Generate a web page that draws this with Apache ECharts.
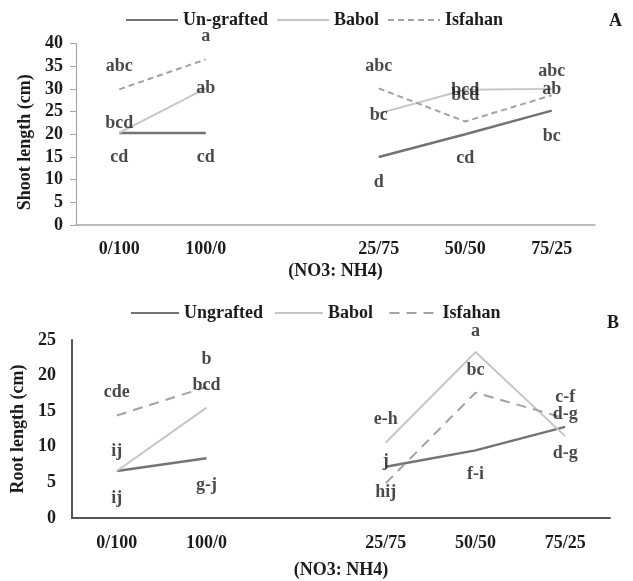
<!DOCTYPE html>
<html>
<head>
<meta charset="utf-8">
<script src="https://cdn.jsdelivr.net/npm/echarts@6/dist/echarts.min.js"></script>
<style>
  html, body { margin: 0; padding: 0; background: #fff; }
  #chart { width: 633px; height: 581px; }
</style>
</head>
<body>
<div id="chart"></div>
<script>
// NO3:NH4 ratios; the blank slot separates the single-source and mixed treatments
const categories = ['0/100', '100/0', '', '25/75', '50/50', '75/25'];

// Shoot length (cm)
const shootUngrafted = [20.3, 20.3, null, 15.0, 20.0, 25.2];
const shootBabol     = [20.3, 30.1, null, 24.6, 29.8, 30.0];
const shootIsfahan   = [29.9, 36.5, null, 30.1, 22.8, 28.6];

// Root length (cm)
const rootUngrafted = [6.6, 8.4, null, 7.2, 9.5, 12.8];
const rootBabol     = [6.6, 15.5, null, 10.6, 23.3, 11.5];
const rootIsfahan   = [14.4, 18.4, null, 4.9, 17.6, 14.0];

// Mean-separation letters: category, height (cm), letters
const shootLetterCats = ['0/100', '0/100', '0/100', '100/0', '100/0', '100/0',
  '25/75', '25/75', '25/75', '50/50', '50/50', '50/50', '75/25', '75/25', '75/25'];
const shootLetterY = [34.9, 22.5, 15.0, 41.5, 30.2, 15.0,
  34.9, 24.2, 9.3, 29.7, 28.6, 14.8, 33.8, 30.0, 19.6];
const shootLetters = ['abc', 'bcd', 'cd', 'a', 'ab', 'cd',
  'abc', 'bc', 'd', 'bcd', 'bcd', 'cd', 'abc', 'ab', 'bc'];

const rootLetterCats = ['0/100', '0/100', '0/100', '100/0', '100/0', '100/0',
  '25/75', '25/75', '25/75', '50/50', '50/50', '50/50', '75/25', '75/25', '75/25'];
const rootLetterY = [17.7, 9.4, 2.8, 22.3, 18.7, 4.6,
  13.9, 7.9, 3.6, 26.2, 20.8, 6.2, 17.0, 14.6, 9.1];
const rootLetters = ['cde', 'ij', 'ij', 'b', 'bcd', 'g-j',
  'e-h', 'j', 'hij', 'a', 'bc', 'f-i', 'c-f', 'd-g', 'd-g'];

const FONT = '"Liberation Serif", "Times New Roman", serif';
const TXT = '#1c1c1c';
const C_UN = '#737373', C_BA = '#c6c6c6', C_IS = '#a3a3a3';

const textBase = { fontFamily: FONT, fontWeight: 'bold', fontSize: 18, color: TXT };

function lineSeries(name, data, color, width, dash, gi) {
  return {
    name, type: 'line', data, xAxisIndex: gi, yAxisIndex: gi,
    symbol: 'none', connectNulls: false, silent: true,
    lineStyle: { color, width, type: dash || 'solid' },
    itemStyle: { color }
  };
}

function letterSeries(cats, ys, texts, gi) {
  return {
    type: 'scatter', xAxisIndex: gi, yAxisIndex: gi, clip: false, silent: true,
    symbolSize: 0, z: 10,
    data: cats.map((c, i) => ({ value: [c, ys[i]], name: texts[i] })),
    label: {
      show: true, position: 'inside', formatter: p => p.name,
      ...textBase
    }
  };
}

const legendCommon = {
  padding: 0, itemHeight: 14, selectedMode: false,
  itemStyle: { opacity: 0, borderWidth: 0 },
  textStyle: { ...textBase }
};

const chart = echarts.init(document.getElementById('chart'), null, { renderer: 'canvas' });

chart.setOption({
  backgroundColor: '#fff',
  animation: false,
  title: [
    { text: 'A', left: 604, top: 7, textStyle: { ...textBase } },
    { text: 'B', left: 602, top: 309, textStyle: { ...textBase } }
  ],
  legend: [
    {
      ...legendCommon,
      left: 125, top: 11, itemWidth: 52, itemGap: 8,
      data: ['Un-grafted', 'Babol', 'Isfahan']
    },
    {
      ...legendCommon,
      left: 130, top: 304, itemWidth: 48, itemGap: 11,
      data: ['Ungrafted', 'Babol ', 'Isfahan ']
    }
  ],
  grid: [
    { left: 76, right: 38, top: 43.5, height: 181.5, outerBoundsMode: 'none' },
    { left: 72, right: 23, top: 340, height: 178, outerBoundsMode: 'none' }
  ],
  xAxis: [
    {
      type: 'category', gridIndex: 0, data: categories, boundaryGap: true,
      axisLine: { lineStyle: { color: '#a8a8a8', width: 1.5 } },
      axisTick: { show: false },
      axisLabel: { ...textBase, margin: 15, interval: 0 },
      name: '(NO3: NH4)', nameLocation: 'middle', nameGap: 37,
      nameTextStyle: { ...textBase }
    },
    {
      type: 'category', gridIndex: 1, data: categories, boundaryGap: true,
      axisLine: { lineStyle: { color: '#555', width: 2 } },
      axisTick: { show: false },
      axisLabel: { ...textBase, margin: 16, interval: 0 },
      name: '(NO3: NH4)', nameLocation: 'middle', nameGap: 43,
      nameTextStyle: { ...textBase }
    }
  ],
  yAxis: [
    {
      type: 'value', gridIndex: 0, min: 0, max: 40, interval: 5,
      axisLine: { show: true, lineStyle: { color: '#a8a8a8', width: 1.2 } },
      axisTick: { show: true, length: 6, lineStyle: { color: '#a8a8a8' } },
      splitLine: { show: false },
      axisLabel: { ...textBase, margin: 13 },
      name: 'Shoot length (cm)', nameLocation: 'middle', nameGap: 41,
      nameTextStyle: { ...textBase, padding: [0, 16, 0, 0] }
    },
    {
      type: 'value', gridIndex: 1, min: 0, max: 25, interval: 5,
      axisLine: { show: true, lineStyle: { color: '#555', width: 2 } },
      axisTick: { show: false },
      splitLine: { show: false },
      axisLabel: { ...textBase, margin: 16 },
      name: 'Root length (cm)', nameLocation: 'middle', nameGap: 41,
      nameTextStyle: { ...textBase }
    }
  ],
  series: [
    lineSeries('Un-grafted', shootUngrafted, C_UN, 2.5, null, 0),
    lineSeries('Babol', shootBabol, C_BA, 2, null, 0),
    lineSeries('Isfahan', shootIsfahan, C_IS, 2, [6, 4], 0),
    letterSeries(shootLetterCats, shootLetterY, shootLetters, 0),

    lineSeries('Ungrafted', rootUngrafted, C_UN, 2.5, null, 1),
    lineSeries('Babol ', rootBabol, C_BA, 2, null, 1),
    lineSeries('Isfahan ', rootIsfahan, C_IS, 2, [10, 7], 1),
    letterSeries(rootLetterCats, rootLetterY, rootLetters, 1)
  ]
});
</script>
</body>
</html>
